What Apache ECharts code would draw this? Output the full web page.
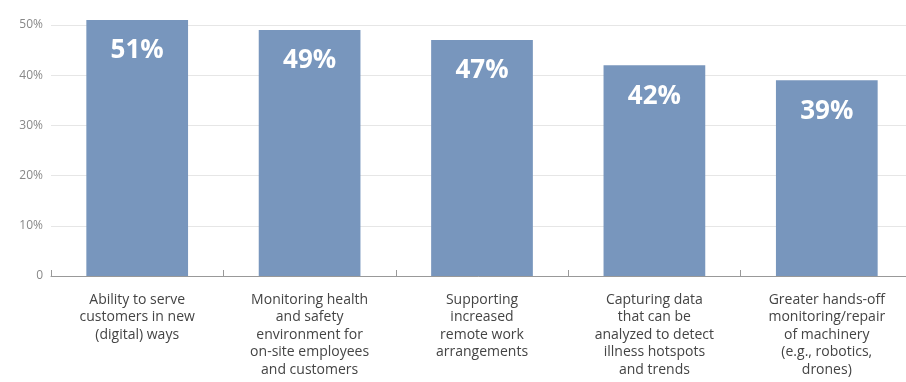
<!DOCTYPE html>
<html><head><meta charset="utf-8">
<script src="https://cdn.jsdelivr.net/npm/echarts@6/dist/echarts.min.js"></script>
<style>html,body{margin:0;padding:0;background:#fff}#c{width:906px;height:382px}</style>
</head><body><div id="c"></div>
<script>
const categories = [
  "Ability to serve\ncustomers in new\n(digital) ways",
  "Monitoring health\nand safety\nenvironment for\non-site employees\nand customers",
  "Supporting\nincreased\nremote work\narrangements",
  "Capturing data\nthat can be\nanalyzed to detect\nillness hotspots\nand trends",
  "Greater hands-off\nmonitoring/repair\nof machinery\n(e.g., robotics,\ndrones)"
];
const values = [51, 49, 47, 42, 39];
const yTicks = [0, 10, 20, 30, 40, 50];

const chart = echarts.init(document.getElementById('c'));
chart.setOption({
  animation: false,
  grid: { left: 51, width: 862, top: 25, bottom: 106, outerBoundsMode: 'none', containLabel: false },
  xAxis: {
    type: 'category',
    data: categories,
    axisLine: { lineStyle: { color: '#999', width: 1 } },
    axisTick: { show: true, inside: true, length: 6, lineStyle: { color: '#999' } },
    axisLabel: {
      color: '#444', fontFamily: 'Open Sans', fontSize: 14, lineHeight: 17.5,
      margin: 15, interval: 0
    }
  },
  yAxis: {
    type: 'value', min: 0, max: 50, interval: 10,
    axisLine: { show: false }, axisTick: { show: false },
    splitLine: { lineStyle: { color: '#e6e6e6' } },
    axisLabel: {
      color: '#888', fontFamily: 'Open Sans', fontSize: 12, margin: 8,
      formatter: v => (yTicks.includes(v) ? (v === 0 ? '0' : v + '%') : '')
    }
  },
  series: [{
    type: 'bar',
    data: values,
    barWidth: '59%',
    clip: false,
    itemStyle: { color: '#7896bd' },
    label: {
      show: true, position: 'insideTop', distance: 18,
      color: '#fff', fontFamily: 'Open Sans', fontWeight: 'bold', fontSize: 26,
      formatter: p => p.value + '%'
    }
  }]
});
</script></body></html>
